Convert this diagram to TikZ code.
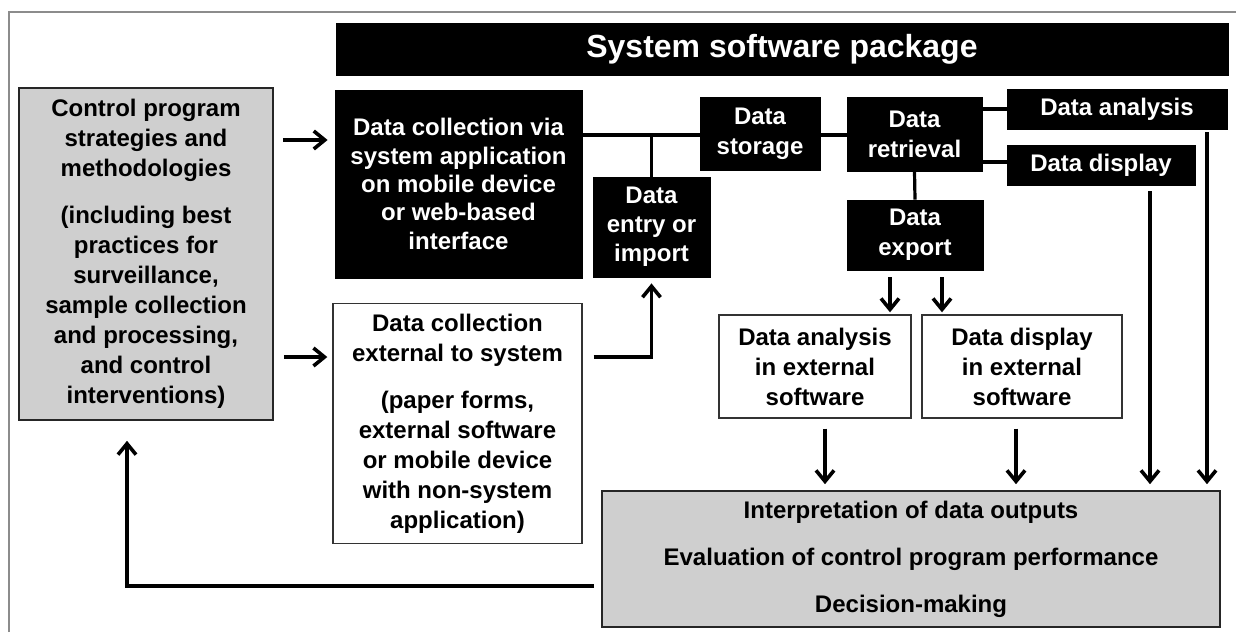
\documentclass[tikz,border=0pt]{standalone}
\usepackage{fontspec}
\setmainfont{Liberation Sans}
\usetikzlibrary{arrows.meta}
\begin{document}
\begin{tikzpicture}[x=0.5pt,y=-0.5pt,
  base/.style={inner sep=0pt, align=center, font=\fontsize{12}{15}\selectfont\bfseries},
  blackbox/.style={base, fill=black, draw=black, text=white},
  graybox/.style={base, fill=black!19, draw=black!85, line width=0.8pt},
  whitebox/.style={base, fill=white, draw=black!80, line width=0.7pt},
  conn/.style={line width=1.6pt},
  arr/.style={line width=1.7pt, -{Straight Barb[length=5.5pt,width=9pt,line width=1.8pt]}},
  frameline/.style={draw=black!45, line width=0.9pt}
]
\useasboundingbox (0,0) rectangle (1236,632);
\draw[frameline] (9,632) -- (9,12) -- (1236,12);

\node[blackbox, minimum width=446pt, minimum height=26pt, font=\fontsize{16}{19}\selectfont\bfseries] (head) at (782,49) {System software package};

\node[graybox, minimum width=127pt, minimum height=166pt] (ctrl) at (146,254)
  {Control program\\strategies and\\methodologies\\[8.5pt](including best\\practices for\\surveillance,\\sample collection\\and processing,\\and control\\interventions)};

\node[blackbox, minimum width=123.5pt, minimum height=94pt, font=\fontsize{12}{14.2}\selectfont\bfseries] (dcv) at (458.5,184)
  {Data collection via\\system application\\on mobile device\\or web-based\\interface};

\node[whitebox, minimum width=124.5pt, minimum height=120pt] (ext) at (457.5,423.5)
  {Data collection\\external to system\\[8.5pt](paper forms,\\external software\\or mobile device\\with non-system\\application)};

\node[blackbox, minimum width=58.5pt, minimum height=50pt, font=\fontsize{12}{14.5}\selectfont\bfseries] (entry) at (651.5,227) {Data\\entry or\\import};
\node[blackbox, minimum width=60pt, minimum height=36.5pt] (storage) at (760,133.5) {Data\\storage};
\node[blackbox, minimum width=67.5pt, minimum height=37pt] (retr) at (914.5,134) {Data\\retrieval};
\node[blackbox, minimum width=110pt, minimum height=20pt] (ana) at (1117,109) {Data analysis};
\node[blackbox, minimum width=94pt, minimum height=20pt] (disp) at (1101,165) {Data display};
\node[blackbox, minimum width=68pt, minimum height=35pt] (exp) at (915,235) {Data\\export};

\node[whitebox, minimum width=96pt, minimum height=51.5pt] (anaext) at (815,366.5) {Data analysis\\in external\\software};
\node[whitebox, minimum width=100pt, minimum height=51.5pt] (dispext) at (1022,366.5) {Data display\\in external\\software};

\node[graybox, minimum width=309pt, minimum height=68pt] (bot) at (911,559)
  {Interpretation of data outputs\\[8.5pt]Evaluation of control program performance\\[8.5pt]Decision-making};

% connectors
\draw[arr, shorten <=4.5pt, shorten >=3.5pt] (ctrl.east |- 0,140) -- (dcv.west |- 0,140);
\draw[arr, shorten <=5pt, shorten >=2.5pt] (ctrl.east |- 0,357) -- (ext.west |- 0,357);
\draw[arr, shorten <=5.5pt, shorten >=3pt] (ext.east |- 0,357) -| (entry.south);
\draw[conn] (dcv.east |- 0,135) -- (storage.west |- 0,135);
\draw[conn] (entry.north |- 0,135) -- (entry.north);
\draw[conn] (storage.east |- 0,135) -- (retr.west |- 0,135);
\draw[conn] (retr.east |- ana.west) -- (ana.west);
\draw[conn] (retr.east |- 0,162) -- (disp.west |- 0,162);
\draw[conn] (retr.south) -- (exp.north);
\draw[arr, shorten <=3.5pt, shorten >=1pt] (exp.south -| 890,0) -- (anaext.north -| 890,0);
\draw[arr, shorten <=3.5pt, shorten >=1pt] (exp.south -| 942,0) -- (dispext.north -| 942,0);
\draw[arr, shorten <=5pt, shorten >=3pt] (anaext.south -| 825,0) -- (bot.north -| 825,0);
\draw[arr, shorten <=5pt, shorten >=3pt] (dispext.south -| 1016,0) -- (bot.north -| 1016,0);
\draw[arr, shorten <=3pt, shorten >=3pt] (disp.south -| 1150,0) -- (bot.north -| 1150,0);
\draw[arr, shorten <=1.5pt, shorten >=3pt] (ana.south -| 1207,0) -- (bot.north -| 1207,0);
\draw[arr, shorten <=3.5pt, shorten >=10pt] (bot.west |- 0,586) -| (ctrl.south -| 127,0);
\end{tikzpicture}
\end{document}
